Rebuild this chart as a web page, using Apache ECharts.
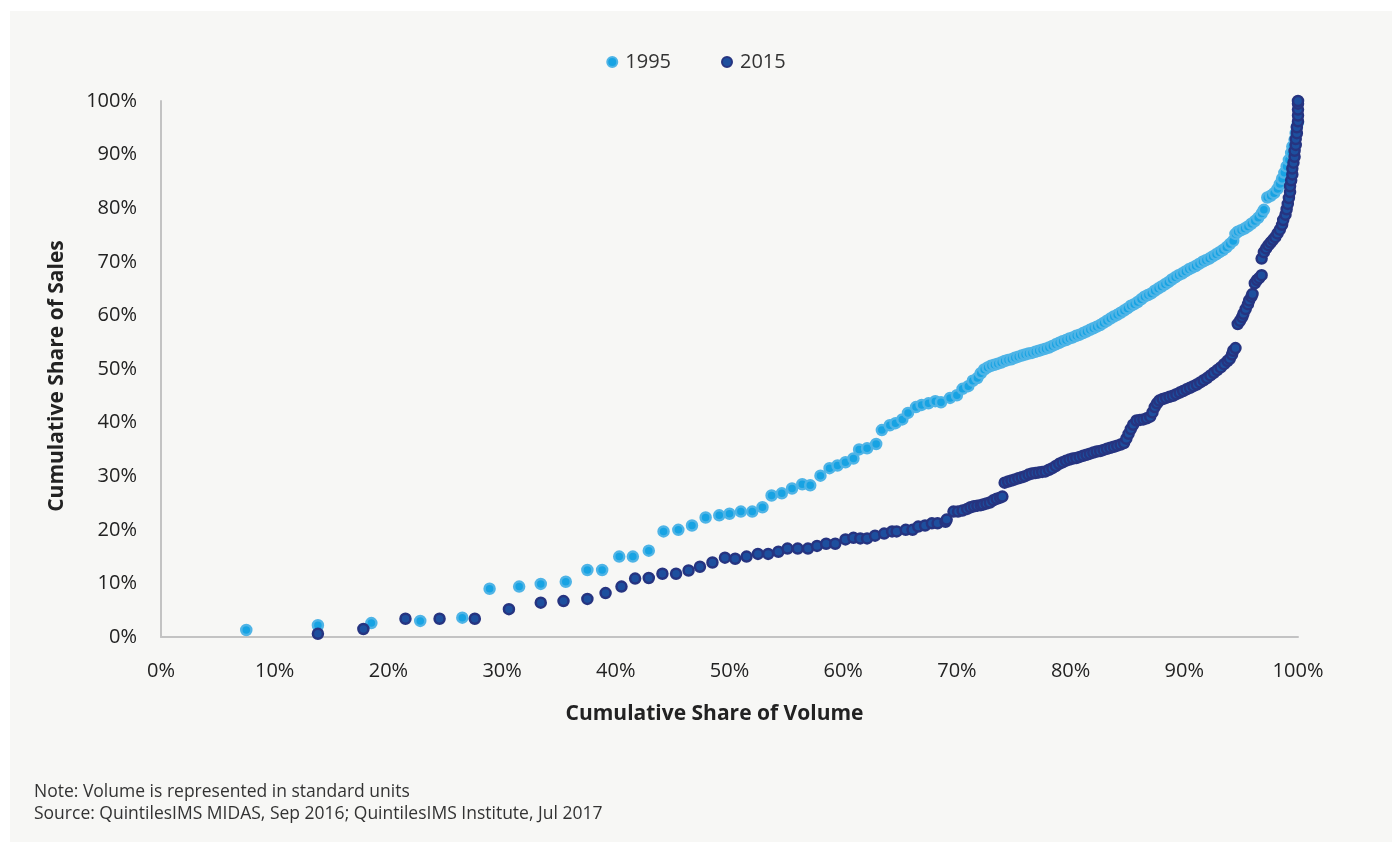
<!DOCTYPE html>
<html>
<head>
<meta charset="utf-8">
<script src="https://cdn.jsdelivr.net/npm/echarts@6/dist/echarts.min.js"></script>
<style>
  html, body { margin: 0; padding: 0; background: #ffffff; }
  #panel { position: absolute; left: 10px; top: 11px; width: 1382px; height: 831px; background: #f7f7f5; }
  #chart { position: absolute; left: 0; top: 0; width: 1392px; height: 842px; }
</style>
</head>
<body>
<div id="panel"></div>
<div id="chart"></div>
<script>
// cumulative share of volume / sales, in %
var vol1995 = [7.5, 13.8, 18.5, 22.8, 26.5, 28.9, 31.5, 33.4, 35.6, 37.5, 38.8, 40.3, 41.5, 42.9, 44.2,
  45.5, 46.7, 47.9, 49.1, 50.0, 51.0, 52.0, 52.9, 53.7, 54.6, 55.5, 56.4, 57.1, 58.0, 58.8, 59.5, 60.2,
  60.9, 61.4, 62.1, 62.9, 63.4, 64.1, 64.6, 65.2, 65.7, 66.4, 66.9, 67.5, 68.1, 68.6, 69.4, 70.0, 70.5,
  71.0, 71.4, 71.8, 72.1, 72.4, 72.7, 73.0, 73.3, 73.6, 73.9, 74.2, 74.5, 74.8, 75.1, 75.4, 75.7, 76.0,
  76.3, 76.6, 76.9, 77.2, 77.5, 77.8, 78.1, 78.4, 78.7, 79.0, 79.3, 79.6, 79.9, 80.2, 80.5, 80.8, 81.1,
  81.4, 81.7, 82.0, 82.3, 82.6, 82.9, 83.2, 83.5, 83.8, 84.1, 84.4, 84.7, 85.0, 85.3, 85.6, 85.9, 86.2,
  86.5, 86.8, 87.1, 87.4, 87.7, 88.0, 88.3, 88.6, 88.9, 89.2, 89.5, 89.8, 90.1, 90.4, 90.7, 91.0, 91.3,
  91.6, 91.9, 92.2, 92.5, 92.8, 93.1, 93.4, 93.7, 94.0, 94.3, 94.5, 94.7, 95.0, 95.3, 95.6, 95.9, 96.2,
  96.5, 96.8, 97.0, 97.3, 97.6, 97.9, 98.2, 98.4, 98.6, 98.8, 99.0, 99.2, 99.4, 99.5, 99.7, 99.8, 99.9,
  100];
var sales1995 = [1.3, 2.2, 2.6, 3.0, 3.6, 9.0, 9.4, 9.9, 10.3, 12.5, 12.5, 15.0, 15.0, 16.1, 19.7,
  20.0, 20.8, 22.3, 22.7, 23.0, 23.4, 23.4, 24.2, 26.4, 26.8, 27.7, 28.5, 28.3, 30.1, 31.5, 32.0, 32.6,
  33.3, 35.0, 35.2, 36.0, 38.6, 39.5, 39.9, 40.6, 41.8, 42.9, 43.3, 43.6, 44.0, 43.8, 44.6, 45.1, 46.3,
  46.8, 47.8, 48.3, 49.2, 49.9, 50.3, 50.6, 50.8, 51.0, 51.2, 51.5, 51.7, 51.8, 52.1, 52.3, 52.5, 52.7,
  52.9, 53.0, 53.2, 53.4, 53.6, 53.8, 54.0, 54.3, 54.6, 54.9, 55.2, 55.4, 55.7, 55.9, 56.2, 56.4, 56.7,
  57.0, 57.3, 57.6, 57.9, 58.2, 58.6, 59.0, 59.4, 59.8, 60.1, 60.5, 60.9, 61.3, 61.8, 62.1, 62.5, 63.0,
  63.5, 63.8, 64.1, 64.6, 65.0, 65.4, 65.8, 66.2, 66.7, 67.1, 67.5, 67.8, 68.2, 68.6, 68.9, 69.2, 69.6,
  70.0, 70.3, 70.6, 71.0, 71.4, 71.8, 72.2, 72.7, 73.3, 73.9, 75.2, 75.6, 75.9, 76.2, 76.6, 77.1, 77.6,
  78.2, 79.0, 79.7, 82.0, 82.3, 82.8, 83.6, 84.5, 85.5, 86.6, 87.8, 89.0, 90.3, 91.5, 92.8, 94.0, 95.2,
  96.0];

var vol2015 = [13.8, 17.8, 21.5, 24.5, 27.6, 30.6, 33.4, 35.4, 37.5, 39.1, 40.5, 41.7, 42.9, 44.1, 45.3,
  46.4, 47.4, 48.5, 49.6, 50.5, 51.5, 52.5, 53.4, 54.3, 55.1, 56.0, 56.9, 57.7, 58.5, 59.3, 60.2, 60.9,
  61.5, 62.1, 62.8, 63.6, 64.3, 64.7, 65.5, 66.1, 66.6, 67.2, 67.8, 68.3, 69.0, 69.1, 69.7, 70.1, 70.5,
  70.9, 71.2, 71.5, 71.8, 72.1, 72.3, 72.6, 72.9, 73.2, 73.5, 73.8, 74.0,
  74.2, 74.5, 74.8, 75.1, 75.4, 75.7, 76.0, 76.3, 76.6, 76.9, 77.2, 77.5, 77.8, 78.1, 78.4, 78.7, 79.0,
  79.3, 79.6, 79.9, 80.2, 80.5, 80.8, 81.1, 81.4, 81.7, 82.0, 82.3, 82.6, 82.9, 83.2, 83.5, 83.8, 84.1,
  84.4, 84.7, 84.9, 85.1, 85.3, 85.5, 85.8, 86.1, 86.4, 86.7, 87.0, 87.2, 87.4, 87.6, 87.8, 88.1, 88.4,
  88.7, 89.0, 89.3, 89.6, 89.9, 90.2, 90.5, 90.8, 91.1, 91.4, 91.7, 92.0, 92.3, 92.6, 92.9, 93.2, 93.5,
  93.8, 94.0, 94.2, 94.3, 94.5, 94.7, 94.9, 95.1, 95.2, 95.4, 95.6, 95.7, 95.9, 96.0, 96.2, 96.4, 96.6,
  96.8, 96.8, 97.0, 97.2, 97.4, 97.6, 97.8, 98.0, 98.2, 98.4, 98.6, 98.7, 98.9, 99.0, 99.1, 99.2, 99.3,
  99.3, 99.4, 99.5, 99.5, 99.6, 99.7, 99.7, 99.8, 99.8, 99.9, 99.9, 100, 100, 100, 100, 100];
var sales2015 = [0.6, 1.5, 3.4, 3.4, 3.4, 5.2, 6.4, 6.7, 7.1, 8.2, 9.4, 10.9, 11.0, 11.8, 11.8,
  12.4, 13.1, 13.9, 14.8, 14.6, 15.0, 15.5, 15.5, 15.9, 16.5, 16.5, 16.5, 17.0, 17.4, 17.4, 18.2, 18.5,
  18.4, 18.4, 18.9, 19.3, 19.7, 19.7, 20.0, 20.0, 20.6, 20.8, 21.2, 21.2, 21.5, 21.9, 23.4, 23.4, 23.6,
  23.9, 24.2, 24.4, 24.5, 24.6, 24.7, 24.9, 25.1, 25.5, 25.8, 26.0, 26.2,
  28.8, 29.0, 29.2, 29.4, 29.6, 29.8, 30.0, 30.3, 30.5, 30.6, 30.7, 30.8, 30.9, 31.2, 31.5, 31.9, 32.3,
  32.6, 32.9, 33.1, 33.3, 33.4, 33.6, 33.8, 34.0, 34.2, 34.4, 34.6, 34.7, 34.9, 35.1, 35.3, 35.5, 35.7,
  35.9, 36.2, 37.0, 37.9, 38.8, 39.6, 40.4, 40.5, 40.6, 40.8, 41.1, 41.9, 42.9, 43.6, 44.1, 44.4, 44.6,
  44.8, 45.0, 45.3, 45.6, 45.9, 46.2, 46.5, 46.8, 47.1, 47.5, 47.9, 48.3, 48.8, 49.3, 49.8, 50.3, 50.9,
  51.5, 51.9, 52.7, 53.4, 53.9, 58.4, 59.0, 59.7, 60.3, 61.2, 62.1, 62.8, 63.5, 64.0, 66.0, 66.6, 67.0,
  67.5, 70.6, 71.8, 72.5, 73.1, 73.6, 74.1, 74.6, 75.3, 76.0, 76.9, 77.8, 78.8, 79.8, 80.8, 81.9, 83.0,
  84.1, 85.2, 86.3, 87.4, 88.5, 89.6, 90.7, 91.8, 92.9, 94.0, 95.1, 96.2, 97.3, 98.4, 99.5, 100];

var seriesNames = ['1995', '2015'];
var notes = ['Note: Volume is represented in standard units',
  'Source: QuintilesIMS MIDAS, Sep 2016; QuintilesIMS Institute, Jul 2017'];

function pairs(xs, ys) {
  var out = [];
  for (var i = 0; i < xs.length; i++) out.push([xs[i] / 100, ys[i] / 100]);
  return out;
}

var font = '"Open Sans", Lato, sans-serif';
var pct = function (v) { return Math.round(v * 100) + '%'; };

var chart = echarts.init(document.getElementById('chart'), null, { renderer: 'canvas' });
chart.setOption({
  backgroundColor: 'transparent',
  animation: false,
  textStyle: { fontFamily: font, color: '#333' },
  legend: {
    top: 47,
    left: 'center',
    icon: 'circle',
    itemWidth: 10,
    itemHeight: 10,
    itemGap: 50,
    textStyle: { fontSize: 20, color: '#333', fontFamily: font, padding: [0, 0, 0, 3] },
    data: seriesNames
  },
  grid: { left: 161, right: 94, top: 101, bottom: 205 },
  xAxis: {
    type: 'value', min: 0, max: 1, interval: 0.1,
    name: 'Cumulative Share of Volume',
    nameLocation: 'middle', nameGap: 67,
    nameTextStyle: { fontSize: 21, fontWeight: 'bold', color: '#222', padding: [0, 30, 0, 0] },
    axisLine: { lineStyle: { color: '#c3c3c3', width: 2 } },
    axisTick: { show: false },
    splitLine: { show: false },
    axisLabel: { fontSize: 20, color: '#222', margin: 24, formatter: pct }
  },
  yAxis: {
    type: 'value', min: 0, max: 1, interval: 0.1,
    name: 'Cumulative Share of Sales',
    nameLocation: 'middle', nameGap: 93, nameRotate: 90,
    nameTextStyle: { fontSize: 21, fontWeight: 'bold', color: '#222', padding: [0, 14, 0, 0] },
    axisLine: { show: true, lineStyle: { color: '#c3c3c3', width: 2 } },
    axisTick: { show: false },
    splitLine: { show: false },
    axisLabel: { fontSize: 20, color: '#222', margin: 24, formatter: pct }
  },
  series: [
    {
      name: '1995', type: 'scatter', symbolSize: 10,
      itemStyle: { color: '#17a3e3', borderColor: '#4fb4e6', borderWidth: 2.5, opacity: 1 },
      data: pairs(vol1995, sales1995)
    },
    {
      name: '2015', type: 'scatter', symbolSize: 10,
      itemStyle: { color: '#1d4f9e', borderColor: '#263480', borderWidth: 2.5, opacity: 1 },
      data: pairs(vol2015, sales2015)
    }
  ],
  graphic: [
    { type: 'text', left: 34, top: 783, style: { text: notes[0], fontSize: 17.5, fill: '#333', fontFamily: font } },
    { type: 'text', left: 34, top: 805, style: { text: notes[1], fontSize: 17.5, fill: '#333', fontFamily: font } }
  ]
});
</script>
</body>
</html>
